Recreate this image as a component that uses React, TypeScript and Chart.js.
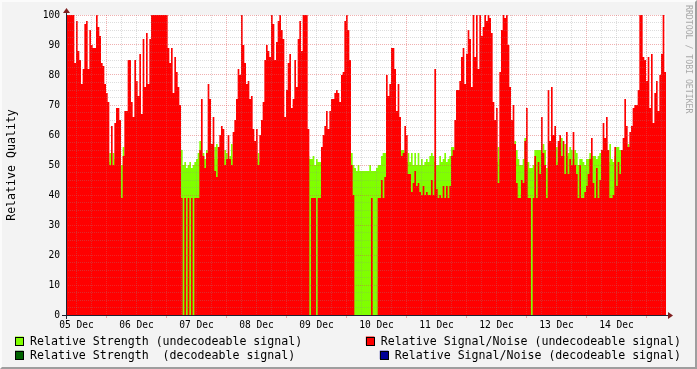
import React, { useEffect, useRef } from 'react';
import { Chart, registerables } from 'chart.js';

Chart.register(...registerables);

// ---- data -------------------------------------------------------------
// time axis: hours after 05 Dec 00:00, one sample every 40 minutes
const START_HOUR = 7.8;
const STEP_HOURS = 2 / 3;
const DAY_LABELS = ['05 Dec', '06 Dec', '07 Dec', '08 Dec', '09 Dec', '10 Dec', '11 Dec', '12 Dec', '13 Dec', '14 Dec'];
const Y_MIN = 0;
const Y_MAX = 100;
const Y_LABEL_STEP = 10;
const Y_MINOR_STEP = 2.5;
const X_MINOR_HOURS = 6;

// Relative Signal/Noise (undecodeable signal)
const SNR_UNDECODEABLE = [
  100, 100, 100, 100, 100, 84, 98, 88, 85, 77, 82, 97, 98, 82, 95, 90, 89, 89, 100, 96,
  93, 84, 83, 77, 74, 71, 50, 63, 50, 64, 69, 69, 65, 39, 53, 68, 68, 85, 85, 71,
  66, 85, 78, 73, 87, 67, 92, 76, 94, 77, 92, 100, 100, 100, 100, 100, 100, 100, 100, 100,
  100, 89, 84, 89, 74, 86, 81, 76, 70, 39, 0, 39, 0, 39, 0, 39, 0, 39, 39, 39,
  55, 72, 53, 49, 54, 77, 72, 57, 66, 48, 46, 56, 60, 63, 62, 50, 52, 60, 52, 50,
  61, 65, 72, 82, 80, 100, 90, 84, 77, 78, 72, 73, 62, 58, 62, 50, 60, 65, 71, 85,
  90, 88, 86, 100, 97, 85, 91, 98, 100, 95, 92, 66, 75, 84, 87, 69, 72, 85, 76, 92,
  98, 88, 100, 100, 100, 62, 0, 39, 39, 39, 0, 39, 39, 56, 60, 63, 68, 62, 68, 72,
  72, 74, 75, 74, 71, 80, 81, 98, 100, 95, 85, 50, 40, 0, 0, 0, 0, 0, 0, 0,
  0, 0, 0, 39, 0, 0, 0, 39, 39, 45, 39, 46, 80, 73, 77, 89, 89, 82, 68, 77,
  66, 53, 54, 63, 60, 47, 47, 41, 44, 48, 43, 44, 41, 40, 43, 40, 41, 40, 40, 45,
  40, 82, 42, 39, 40, 39, 43, 39, 43, 39, 43, 53, 55, 65, 75, 75, 78, 86, 89, 77,
  87, 95, 92, 76, 100, 86, 100, 82, 100, 93, 96, 100, 98, 100, 99, 94, 71, 65, 69, 44,
  81, 95, 100, 99, 100, 90, 76, 65, 70, 57, 44, 39, 39, 45, 44, 58, 69, 39, 39, 0,
  39, 53, 39, 51, 47, 66, 54, 50, 39, 75, 58, 76, 60, 63, 50, 58, 60, 53, 58, 47,
  61, 47, 52, 50, 61, 50, 47, 39, 50, 39, 39, 41, 43, 47, 52, 59, 44, 39, 49, 39,
  45, 55, 64, 59, 66, 55, 39, 39, 40, 56, 43, 51, 47, 55, 59, 72, 63, 56, 61, 63,
  69, 70, 70, 75, 100, 100, 86, 85, 78, 86, 69, 87, 64, 74, 78, 68, 80, 87, 100, 81,
];

// Relative Strength (undecodeable signal)
const STRENGTH_UNDECODEABLE = [
  52, 51, 53, 50, 52, 51, 50, 52, 53, 51, 50, 52, 51, 53, 52, 50, 51, 52, 50, 51,
  52, 53, 51, 50, 52, 51, 54, 50, 54, 52, 51, 52, 50, 50, 56, 52, 51, 53, 52, 50,
  51, 52, 53, 51, 50, 52, 51, 53, 52, 50, 51, 52, 50, 53, 52, 51, 50, 52, 51, 53,
  52, 51, 53, 50, 52, 51, 52, 50, 51, 55, 50, 51, 49, 50, 51, 49, 50, 51, 52, 54,
  58, 51, 54, 52, 55, 52, 51, 53, 52, 56, 57, 52, 51, 53, 52, 55, 54, 51, 53, 57,
  52, 51, 53, 52, 50, 52, 51, 53, 52, 51, 52, 50, 53, 51, 52, 54, 51, 52, 53, 51,
  51, 52, 50, 53, 51, 52, 50, 51, 53, 52, 51, 52, 50, 51, 53, 52, 51, 50, 52, 51,
  53, 52, 51, 50, 52, 53, 52, 52, 53, 50, 52, 51, 51, 53, 52, 51, 52, 53, 51, 52,
  50, 52, 51, 53, 52, 51, 50, 52, 51, 53, 52, 54, 50, 49, 48, 50, 48, 48, 48, 48,
  48, 48, 50, 48, 48, 48, 49, 50, 50, 53, 54, 54, 52, 51, 53, 52, 51, 50, 52, 51,
  53, 55, 55, 52, 51, 54, 51, 54, 50, 54, 50, 54, 50, 52, 50, 51, 52, 51, 53, 54,
  53, 51, 50, 50, 53, 51, 52, 54, 51, 52, 53, 56, 56, 52, 51, 53, 52, 51, 53, 52,
  52, 51, 53, 50, 52, 51, 52, 50, 53, 51, 52, 50, 51, 53, 52, 51, 50, 52, 51, 56,
  52, 51, 53, 50, 52, 51, 52, 53, 51, 58, 55, 52, 50, 50, 52, 59, 51, 51, 49, 49,
  50, 55, 55, 55, 55, 52, 57, 55, 49, 51, 52, 51, 53, 52, 56, 51, 52, 59, 53, 57,
  53, 54, 56, 55, 52, 55, 54, 50, 52, 52, 51, 50, 52, 52, 54, 53, 53, 53, 52, 53,
  54, 52, 51, 53, 52, 51, 57, 52, 51, 53, 56, 56, 55, 52, 51, 53, 52, 57, 51, 52,
  53, 52, 51, 53, 52, 51, 50, 52, 53, 52, 51, 53, 52, 50, 51, 52, 53, 52, 51, 53,
];

const LEGEND_ENTRIES = [
  { label: 'Relative Strength (undecodeable signal)', color: '#80FF00' },
  { label: 'Relative Signal/Noise (undecodeable signal)', color: '#FF0000' },
  { label: 'Relative Strength  (decodeable signal)', color: '#006400' },
  { label: 'Relative Signal/Noise (decodeable signal)', color: '#000096' },
];

const WATERMARK = 'RRDTOOL / TOBI OETIKER';
const Y_TITLE = 'Relative Quality';

// ---- styles -----------------------------------------------------------
const MONO = '"DejaVu Sans Mono", monospace';
const BACK = '#F3F3F3';
const SHADE_A = '#FBFBFB';
const SHADE_B = '#9E9E9E';
const GRID_MINOR = 'rgba(143,143,143,0.3)';
const GRID_MAJOR = 'rgba(222,79,79,0.45)';
const AXIS_COLOR = '#202030';
const ARROW_COLOR = '#801F1F';

const rrdPlugin = {
  id: 'rrdDecor',
  beforeDraw(chart: any) {
    const { ctx, width, height, chartArea: a } = chart;
    ctx.save();
    ctx.fillStyle = BACK;
    ctx.fillRect(0, 0, width, height);
    ctx.fillStyle = SHADE_A;
    ctx.beginPath();
    ctx.moveTo(0, height);
    ctx.lineTo(2, height - 2);
    ctx.lineTo(2, 2);
    ctx.lineTo(width - 2, 2);
    ctx.lineTo(width, 0);
    ctx.lineTo(0, 0);
    ctx.closePath();
    ctx.fill();
    ctx.fillStyle = SHADE_B;
    ctx.beginPath();
    ctx.moveTo(2, height - 2);
    ctx.lineTo(width - 2, height - 2);
    ctx.lineTo(width - 2, 2);
    ctx.lineTo(width, 0);
    ctx.lineTo(width, height);
    ctx.lineTo(0, height);
    ctx.closePath();
    ctx.fill();
    ctx.fillStyle = '#FFFFFF';
    ctx.fillRect(a.left, a.top, a.right - a.left, a.bottom - a.top);
    ctx.restore();
  },
  afterDraw(chart: any) {
    const { ctx, chartArea: a } = chart;
    ctx.save();
    // axes
    ctx.strokeStyle = AXIS_COLOR;
    ctx.lineWidth = 1;
    ctx.beginPath();
    ctx.moveTo(a.left - 4, a.bottom + 0.5);
    ctx.lineTo(a.right + 4, a.bottom + 0.5);
    ctx.moveTo(a.left + 0.5, a.bottom + 4);
    ctx.lineTo(a.left + 0.5, a.top - 4);
    ctx.stroke();
    // arrows
    ctx.fillStyle = ARROW_COLOR;
    ctx.beginPath();
    ctx.moveTo(a.right + 2, a.bottom - 3);
    ctx.lineTo(a.right + 2, a.bottom + 4);
    ctx.lineTo(a.right + 7, a.bottom + 0.5);
    ctx.closePath();
    ctx.fill();
    ctx.beginPath();
    ctx.moveTo(a.left - 3, a.top - 2);
    ctx.lineTo(a.left + 4, a.top - 2);
    ctx.lineTo(a.left + 0.5, a.top - 7);
    ctx.closePath();
    ctx.fill();

    // legend
    ctx.font = `11.6px ${MONO}`;
    ctx.textBaseline = 'alphabetic';
    ctx.textAlign = 'left';
    LEGEND_ENTRIES.forEach((e, i) => {
      const row = Math.floor(i / 2);
      const col = i % 2;
      const baseline = 345.2 + row * 14.2;
      const w = ctx.measureText(e.label).width;
      const textX = col === 0 ? 30 : 681 - w;
      const boxX = col === 0 ? 15 : textX - 15;
      ctx.fillStyle = e.color;
      ctx.fillRect(boxX, baseline - 8.7, 8.5, 8.5);
      ctx.strokeStyle = '#000';
      ctx.lineWidth = 1;
      ctx.strokeRect(Math.round(boxX) + 0.5, Math.round(baseline - 8.7) + 0.5, 8, 8);
      ctx.fillStyle = '#000';
      ctx.fillText(e.label, textX, baseline);
    });

    // watermark
    ctx.font = `8.2px ${MONO}`;
    ctx.fillStyle = '#A8A8A8';
    ctx.translate(688, 5);
    ctx.rotate(Math.PI / 2);
    ctx.textBaseline = 'middle';
    ctx.fillText(WATERMARK, 0, 0);
    ctx.restore();
  },
};

function toPoints(values: number[]) {
  const pts = values.map((v, i) => ({ x: START_HOUR + i * STEP_HOURS, y: v }));
  pts.push({ x: START_HOUR + values.length * STEP_HOURS, y: values[values.length - 1] });
  return pts;
}

export default function App() {
  const ref = useRef<HTMLCanvasElement>(null);

  useEffect(() => {
    const canvas = ref.current;
    if (!canvas) return;
    const xMin = START_HOUR;
    const xMax = START_HOUR + SNR_UNDECODEABLE.length * STEP_HOURS;

    const chart = new Chart(canvas, {
      type: 'line',
      data: {
        datasets: [
          {
            label: LEGEND_ENTRIES[1].label,
            data: toPoints(SNR_UNDECODEABLE),
            order: 1,
            stepped: true,
            fill: 'origin',
            backgroundColor: LEGEND_ENTRIES[1].color,
            borderColor: 'rgba(0,0,0,0)',
            borderWidth: 0,
            pointRadius: 0,
          },
          {
            label: LEGEND_ENTRIES[0].label,
            data: toPoints(STRENGTH_UNDECODEABLE),
            order: 2,
            stepped: true,
            fill: 'origin',
            backgroundColor: LEGEND_ENTRIES[0].color,
            borderColor: 'rgba(0,0,0,0)',
            borderWidth: 0,
            pointRadius: 0,
          },
        ],
      },
      options: {
        responsive: false,
        animation: false,
        events: [],
        layout: { padding: { left: 0, right: 31, top: 15, bottom: 0 } },
        plugins: {
          legend: { display: false },
          tooltip: { enabled: false },
        },
        scales: {
          x: {
            type: 'linear',
            min: xMin,
            max: xMax,
            afterBuildTicks: (s: any) => {
              const ticks: any[] = [];
              for (let h = Math.ceil(xMin / X_MINOR_HOURS) * X_MINOR_HOURS; h <= xMax; h += X_MINOR_HOURS) {
                ticks.push({ value: h });
              }
              s.ticks = ticks;
            },
            afterFit: (s: any) => {
              s.height = 54;
            },
            ticks: {
              autoSkip: false,
              maxRotation: 0,
              minRotation: 0,
              padding: 1.5,
              color: '#000',
              font: { family: MONO, size: 9.6 },
              callback: (v: any) => (v % 24 === 12 ? DAY_LABELS[Math.floor(v / 24)] || '' : ''),
            },
            grid: {
              z: 1,
              lineWidth: 1,
              color: (c: any) => (c.tick && c.tick.value % 24 === 0 ? GRID_MAJOR : GRID_MINOR),
              drawTicks: true,
              tickLength: 3,
              tickColor: (c: any) => (c.tick && c.tick.value % 24 === 0 ? GRID_MAJOR : 'rgba(0,0,0,0)'),
            },
            border: { display: false, dash: [1, 1] },
          },
          y: {
            type: 'linear',
            min: Y_MIN,
            max: Y_MAX,
            afterBuildTicks: (s: any) => {
              const ticks: any[] = [];
              for (let v = Y_MIN; v <= Y_MAX; v += Y_MINOR_STEP) ticks.push({ value: v });
              s.ticks = ticks;
            },
            afterFit: (s: any) => {
              s.width = 66;
            },
            ticks: {
              autoSkip: false,
              padding: 6,
              color: '#000',
              font: { family: MONO, size: 9.6 },
              callback: (v: any) => (v % Y_LABEL_STEP === 0 ? String(v) : ''),
            },
            grid: {
              z: 1,
              lineWidth: 1,
              drawTicks: false,
              color: (c: any) => (c.tick && c.tick.value % Y_LABEL_STEP === 0 ? GRID_MAJOR : GRID_MINOR),
            },
            border: { display: false, dash: [1, 1] },
            title: {
              display: true,
              text: Y_TITLE,
              color: '#000',
              font: { family: MONO, size: 11.6 },
              padding: { top: 5, bottom: 0 },
            },
          },
        },
      },
      plugins: [rrdPlugin],
    } as any);

    return () => chart.destroy();
  }, []);

  return (
    <div style={{ position: 'fixed', left: 0, top: 0, width: 697, height: 369 }}>
      <canvas ref={ref} width={697} height={369} style={{ display: 'block', width: 697, height: 369 }} />
    </div>
  );
}
